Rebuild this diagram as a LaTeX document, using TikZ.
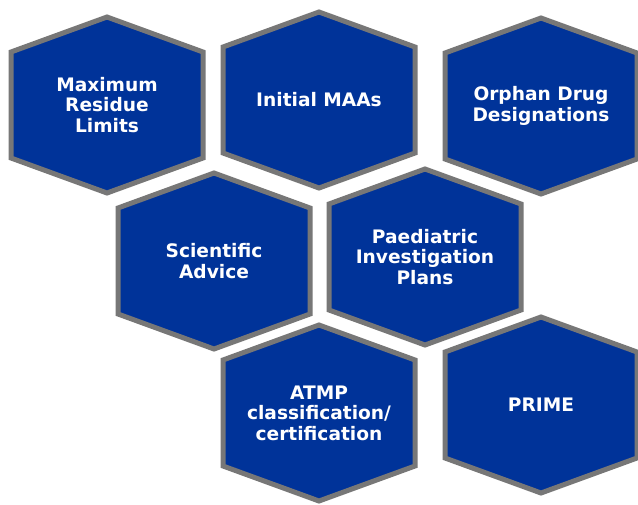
\documentclass[tikz,border=0pt]{standalone}
\usepackage{fontspec}
\usepackage{tikz}
\usepackage{xcolor}
\newfontfamily\hexfont{DejaVu Sans}
\definecolor{hexblue}{HTML}{003399}
\definecolor{hexgray}{HTML}{777777}
\tikzstyle{hexbox} = [
    draw=hexgray,
    fill=hexblue,
    line width=5pt
    ]
\tikzstyle{hextext} = [
    text=white,
    font=\hexfont\bfseries\fontsize{18.6}{20.5}\selectfont,
    align=center,
    inner sep=0pt
    ]
\newcommand{\hexcell}[3]{% hexagon at #1, label node #2
\draw[hexbox] (#1) ++(0,-88) -- ++(96,35) -- ++(0,106) -- ++(-96,35)
    -- ++(-96,-35) -- ++(0,-106) -- cycle;
\node[hextext] (#2) at (#1) {#3};
}

\begin{document}
\begin{tikzpicture}[x=1pt, y=-1pt]
\useasboundingbox (0,0) rectangle (638,504);

\hexcell{107,105}{mrl}{Maximum\\Residue\\Limits}
\hexcell{319,100}{maa}{Initial MAAs}
\hexcell{541,106}{odd}{Orphan Drug\\Designations}
\hexcell{214,261}{sa}{Scientific\\Advice}
\hexcell{425,257}{pip}{Paediatric\\Investigation\\Plans}
\hexcell{319,413}{atmp}{ATMP\\classification/\\certification}
\hexcell{541,405}{prime}{PRIME}
\end{tikzpicture}
\end{document}
